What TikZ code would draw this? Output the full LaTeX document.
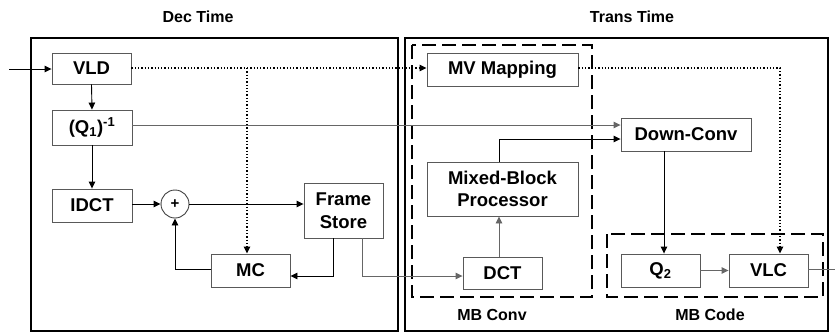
\documentclass[tikz,border=0pt]{standalone}
\usepackage{fontspec}
\setmainfont{Liberation Sans}
\usetikzlibrary{arrows.meta,calc}
\begin{document}
\begin{tikzpicture}[x=1pt,y=-1pt,
  blk/.style={draw=black!65,line width=0.9pt,fill=white,inner sep=0pt,align=center,
    font=\fontsize{18.5}{22.5}\selectfont\bfseries},
  arr/.style={line width=0.9pt,-{Triangle[length=7pt,width=6.5pt]}},
  garr/.style={arr,draw=black!60},
  dotarr/.style={line width=1.3pt,dotted,-{Triangle[length=7pt,width=6.5pt]}},
  frame/.style={draw,line width=1.8pt},
  dbox/.style={draw,line width=2.6pt,dash pattern=on 14pt off 6pt},
  lbl/.style={font=\fontsize{16}{19}\selectfont\bfseries}]
\useasboundingbox (0,0) rectangle (835,333);
% frames
\draw[frame] (31,38) rectangle (398,331);
\draw[frame] (405,38) rectangle (828,331);
\node[lbl] (tdec) at (198,17) {Dec Time};
\node[lbl] (ttrans) at (632,17) {Trans Time};
% dashed groups
\draw[dbox] (412,45) rectangle (592,297);
\draw[dbox] (607,234) rectangle (823,297);
\node[lbl] (lconv) at (492,315) {MB Conv};
\node[lbl] (lcode) at (710,315) {MB Code};
% blocks
\node[blk,minimum width=79pt,minimum height=31pt] (VLD) at (91.5,68.5) {VLD};
\node[blk,minimum width=80pt,minimum height=35pt] (Q1) at (92,127.5) {(Q\textsubscript{1})\textsuperscript{-1}};
\node[blk,minimum width=80pt,minimum height=33pt] (IDCT) at (92,205.5) {IDCT};
\node[draw=black!75,line width=0.9pt,circle,minimum size=28pt,inner sep=0pt,font=\fontsize{15}{15}\selectfont\bfseries] (plus) at (175,204) {+};
\node[blk,minimum width=79pt,minimum height=55pt] (FS) at (343.5,210.5) {Frame\\Store};
\node[blk,minimum width=79pt,minimum height=33pt] (MC) at (250.5,270.5) {MC};
\node[blk,minimum width=151pt,minimum height=33pt] (MVM) at (502.5,69.5) {MV Mapping};
\node[blk,minimum width=151pt,minimum height=54pt] (MBP) at (502.5,189) {Mixed-Block\\Processor};
\node[blk,minimum width=79pt,minimum height=32pt] (DCT) at (502.5,273) {DCT};
\node[blk,minimum width=130pt,minimum height=33pt] (DC) at (686,134.5) {Down-Conv};
\node[blk,minimum width=79pt,minimum height=33pt] (Q2) at (660.5,270.5) {Q\textsubscript{2}};
\node[blk,minimum width=79pt,minimum height=33pt] (VLC) at (768.5,270.5) {VLC};
% helper coordinates
\coordinate (in) at (9,69);
\coordinate (out) at (835,269);
\coordinate (fsA) at (333,276);
\coordinate (fsB) at (362,276);
\coordinate (mbA) at (499,139);
\coordinate (q1y) at (0,125);
\coordinate (dcx) at (664,0);
\coordinate (dotA) at (247,68);
\coordinate (dotB) at (780,68);
% connectors
\draw[arr] (in) -- (VLD.west |- in);
\draw[arr] (VLD.south) -- (Q1.north);
\draw[arr] (Q1.south) -- (IDCT.north);
\draw[arr] (IDCT.east |- plus.west) -- (plus.west);
\draw[arr] (plus.east) -- (plus.east -| FS.west);
\draw[arr] (MC.west |- 0,269) -| (plus.south);
\draw[arr] (FS.south -| fsA) |- (MC.east |- fsA);
\draw[garr] (FS.south -| fsB) |- (DCT.west |- fsB);
\draw[garr] (DCT.north -| mbA) -- (MBP.south -| mbA);
\draw[arr] (MBP.north -| mbA) |- (DC.west |- mbA);
\draw[garr] (Q1.east |- q1y) -- (DC.west |- q1y);
\draw[arr] (DC.south -| dcx) -- (Q2.north -| dcx);
\draw[garr] (Q2.east) -- (VLC.west);
\draw[line width=0.9pt,draw=black!60] (VLC.east |- out) -- (out);
% dotted
\draw[dotarr] (VLD.east |- dotA) -- (MVM.west |- dotA);
\draw[dotarr] (dotA) -- (MC.north -| dotA);
\draw[dotarr] (MVM.east |- dotB) -| (VLC.north -| dotB);
\end{tikzpicture}
\end{document}
